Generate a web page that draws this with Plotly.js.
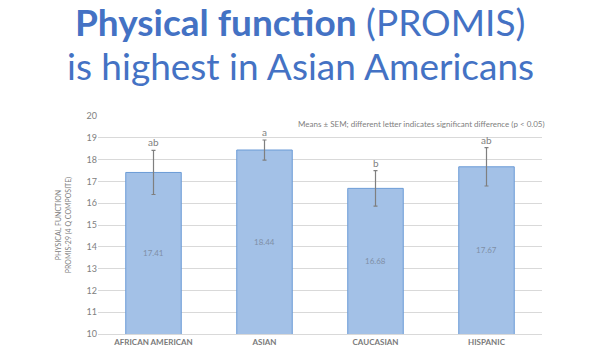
<!DOCTYPE html>
<html><head><meta charset="utf-8">
<script src="https://cdn.plot.ly/plotly-3.0.1.min.js"></script>
<style>html,body{margin:0;padding:0;background:#fff}#chart{width:602px;height:363px}</style>
</head><body><div id="chart"></div>
<script>
const categories = ['AFRICAN AMERICAN', 'ASIAN', 'CAUCASIAN', 'HISPANIC'];
const means = [17.41, 18.44, 16.68, 17.67];
const sem = [1.01, 0.46, 0.81, 0.88];
const letters = ['ab', 'a', 'b', 'ab'];
const yTicks = [10, 11, 12, 13, 14, 15, 16, 17, 18, 19, 20];
const yMin = 10, yMax = 20;

const trace = {
  type: 'bar', x: categories, y: means,
  marker: {color: '#a3c1e7', line: {color: '#6b9bd6', width: 1}},
  error_y: {type: 'data', array: sem, visible: true, color: '#7f7f7f', thickness: 1.2, width: 2},
  hoverinfo: 'none'
};
const annotations = [];
categories.forEach((c, i) => {
  annotations.push({x: c, y: means[i] + sem[i], xref: 'x', yref: 'y', text: letters[i], showarrow: false,
    yanchor: 'bottom', font: {family: 'Lato', size: 10, color: '#808080'}});
  annotations.push({x: c, y: (yMin + means[i]) / 2, xref: 'x', yref: 'y', text: means[i].toFixed(2), showarrow: false,
    yanchor: 'middle', font: {family: 'Lato', size: 8, color: '#7f8fa6'}});
});
annotations.push({x: 1, xref: 'paper', xshift: 5, y: 19.62, yref: 'y', xanchor: 'right', yanchor: 'middle',
  text: 'Means ± SEM; different letter indicates significant difference (p < 0.05)', showarrow: false,
  font: {family: 'Lato', size: 8, color: '#808080'}});
annotations.push({xref: 'paper', x: 0.456, y: 1, yref: 'paper', yshift: 95, xanchor: 'center', yanchor: 'middle',
  text: '<b>Physical function</b> (PROMIS)', showarrow: false, font: {family: 'Lato', size: 37, color: '#4472c4'}});
annotations.push({xref: 'paper', x: 0.456, y: 1, yref: 'paper', yshift: 51, xanchor: 'center', yanchor: 'middle',
  text: 'is highest in Asian Americans', showarrow: false, font: {family: 'Lato', size: 37, color: '#4472c4'}});

const layout = {
  width: 602, height: 363, margin: {l: 98, r: 60, t: 116, b: 29},
  paper_bgcolor: '#fff', plot_bgcolor: '#fff', showlegend: false, bargap: 0.5,
  font: {family: 'Lato', color: '#808080'},
  xaxis: {type: 'category', automargin: false, showgrid: false, showline: true, linecolor: '#d9d9d9', ticks: '',
    tickfont: {family: 'Lato', size: 8, color: '#7a7a7a', weight: 'bold'}, fixedrange: true},
  yaxis: {range: [yMin, yMax], automargin: false, tickvals: yTicks, showgrid: true, gridcolor: '#d9d9d9', zeroline: false,
    showline: false, ticks: '', ticklen: 0, tickfont: {family: 'Lato', size: 9, color: '#808080'},
    title: {text: 'PHYSICAL FUNCTION<br>PROMIS-29 (4 Q COMPOSITE)', font: {family: 'Lato', size: 7, color: '#808080'}, standoff: 14}},
  annotations: annotations
};
Plotly.newPlot('chart', [trace], layout, {displayModeBar: false, staticPlot: true});
</script></body></html>
